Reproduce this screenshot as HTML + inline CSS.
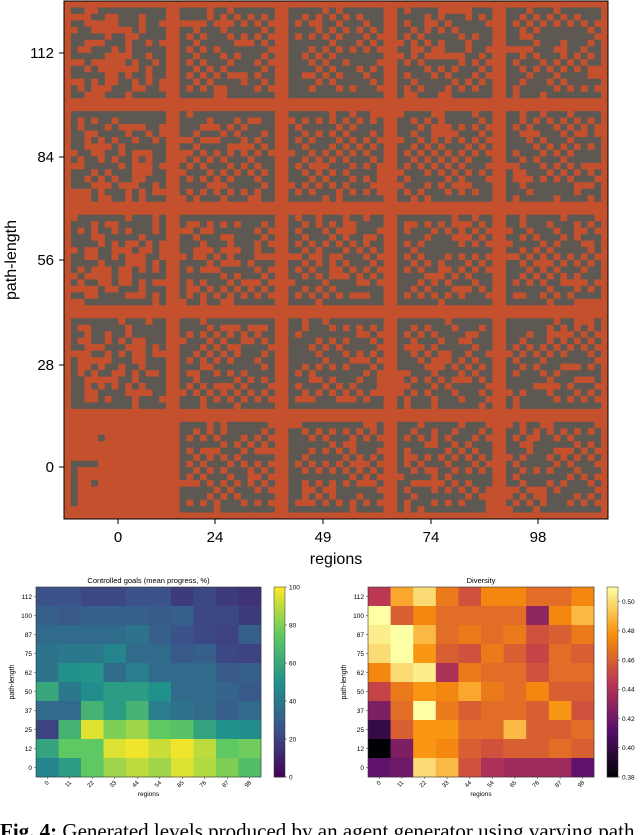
<!DOCTYPE html>
<html><head><meta charset="utf-8"><style>
body{margin:0;background:#fff;width:640px;height:835px;overflow:hidden;font-family:"Liberation Sans",sans-serif}
svg{position:absolute;left:0;top:0}
</style></head><body>
<svg id="s" width="640" height="835">
<g id="maze"></g>
<g id="top-axes"></g>
<g id="hm1"></g>
<g id="hm2"></g>
<text x="0" y="838" font-family="Liberation Serif,serif" font-size="21"><tspan font-weight="bold">Fig. 4:</tspan> Generated levels produced by an agent generator using varying path</text>
</svg>
<script>
const NS='http://www.w3.org/2000/svg';
function mk(p,t,a,txt){const e=document.createElementNS(NS,t);for(const k in a)e.setAttribute(k,a[k]);if(txt!==undefined)e.textContent=txt;p.appendChild(e);return e;}
// ---- data ----
const topXTicks=['0','24','49','74','98'];
const topYTicks=['0','28','56','84','112'];
const hmRegions=['0','11','22','33','44','54','65','76','87','98'];
const hmPath=['112','100','87','75','62','50','37','25','12','0'];
const goalsValues=[
[25,25,22,22,25,25,18,22,18,15],
[30,28,30,30,30,28,30,22,22,18],
[35,35,35,35,38,30,25,22,20,30],
[38,40,40,45,35,35,28,30,22,20],
[38,50,52,35,42,35,35,35,28,30],
[60,40,48,55,55,50,35,35,32,28],
[35,35,65,55,65,42,38,35,30,35],
[20,65,95,80,85,75,72,58,50,48],
[58,75,75,95,98,92,98,90,75,78],
[45,55,75,85,90,85,95,88,80,70]];
const diversityValues=[
[.445,.485,.50,.47,.455,.475,.475,.465,.465,.475],
[.51,.46,.475,.465,.465,.465,.465,.43,.475,.49],
[.505,.51,.49,.465,.47,.465,.47,.455,.46,.47],
[.50,.51,.48,.46,.455,.47,.46,.45,.465,.46],
[.475,.50,.505,.44,.47,.465,.465,.455,.465,.465],
[.45,.47,.48,.475,.485,.47,.465,.475,.46,.46],
[.425,.465,.51,.47,.46,.465,.465,.46,.48,.455],
[.40,.46,.48,.48,.465,.465,.49,.46,.46,.465],
[.38,.425,.48,.475,.46,.455,.46,.46,.465,.46],
[.415,.42,.50,.49,.455,.44,.435,.435,.435,.415]];
const goalsTicks=[0,20,40,60,80,100];
const divTicks=[0.38,0.40,0.42,0.44,0.46,0.48,0.50];
// ---- maze image ----
const S=document.getElementById('s');
const mz=document.getElementById('maze');
const X0=64,Y0=1,W=544,H=518,N=80,cw=W/N,ch=H/N;
mk(mz,'rect',{x:X0,y:Y0,width:W,height:H,fill:'#c5502d'});
function h(a,b){let v=(a*374761393+b*668265263)^0x5bd1e995;v=(v^(v>>>13))*1274126177;return ((v^(v>>>16))>>>0)/4294967295;}
let d='';
for(let tr=0;tr<5;tr++)for(let tc=0;tc<5;tc++){
 for(let i=1;i<15;i++)for(let j=1;j<15;j++){
  let g;
  if(tc==0){
   if(tr==4){g=(j<=2&&i>=7&&i<=13&&(j==1||i==7))||(i==7&&j<5)||(i==3&&j==5)||(i==10&&j==4);}
   else{const r=h(tr*100+i,tc*100+j);g=(j==1||i==14||i==1)?r<0.85:r<0.55;}
  }else{
   const r=h(tr*37+i*3,tc*91+j*7);
   if(j==1||i==1||i==14)g=r<0.8;else g=((i+j)%2==0)?r<0.92:r<0.28;
  }
  if(g){const x=X0+(tc*16+j)*cw,y=Y0+(tr*16+i)*ch;d+=`M${x.toFixed(1)} ${y.toFixed(1)}h${cw.toFixed(2)}v${ch.toFixed(2)}h${(-cw).toFixed(2)}z`;}
 }}
const mp=mk(mz,'path',{d:d,fill:'#5e5853'});


// ---- top axes ----
const ta=document.getElementById('top-axes');
mk(ta,'rect',{x:X0,y:Y0,width:W,height:H,fill:'none',stroke:'#000','stroke-width':1});
const txPos=[118,215,323,431,538],tyPos=[467,365,260,157,53];
topXTicks.forEach((t,i)=>{mk(ta,'line',{x1:txPos[i],x2:txPos[i],y1:519,y2:524,stroke:'#000'});const e=mk(ta,'text',{x:txPos[i],y:542,'text-anchor':'middle','font-size':15},t);});
topYTicks.forEach((t,i)=>{mk(ta,'line',{x1:59,x2:64,y1:tyPos[i],y2:tyPos[i],stroke:'#000'});const e=mk(ta,'text',{x:54,y:tyPos[i]+5,'text-anchor':'end','font-size':15},t);});
const xt=mk(ta,'text',{x:336,y:564,'text-anchor':'middle','font-size':16},'regions');
const yt=mk(ta,'text',{x:16,y:260,'text-anchor':'middle','font-size':16,transform:'rotate(-90 16 260)'},'path-length');
// ---- colormaps ----
const viridis=['#440154','#3b528b','#21918c','#5ec962','#fde725'];
const inferno=['#000004','#57106e','#bc3754','#f98e09','#fcffa4'];
function cmap(st,t){t=Math.max(0,Math.min(1,t));const p=t*(st.length-1),i=Math.min(st.length-2,Math.floor(p)),f=p-i;
 const a=st[i],b=st[i+1];const c=k=>Math.round(parseInt(a.substr(k,2),16)*(1-f)+parseInt(b.substr(k,2),16)*f);
 return `rgb(${c(1)},${c(3)},${c(5)})`;}
function heat(g,vals,x0,x1,y0,y1,lo,hi,st,title,cbx,ticks,fmt){
 const nx=hmRegions.length,ny=hmPath.length,cwid=(x1-x0)/nx,chgt=(y1-y0)/ny;
 const xs=i=>x0+i*cwid,ys=j=>y0+j*chgt,norm=v=>(v-lo)/(hi-lo);
 vals.forEach((row,j)=>row.forEach((v,i)=>{const r=mk(g,'rect',{x:xs(i),y:ys(j),width:cwid+0.3,height:chgt+0.3,fill:cmap(st,norm(v))});
  }));
 mk(g,'rect',{x:x0,y:y0,width:x1-x0,height:y1-y0,fill:'none',stroke:'#333','stroke-width':0.6});
 const tt=mk(g,'text',{x:(x0+x1)/2,y:y0-4,'text-anchor':'middle','font-size':7.5},title);
 hmPath.forEach((t,j)=>{const y=ys(j)+chgt/2;mk(g,'line',{x1:x0-2,x2:x0,y1:y,y2:y,stroke:'#333','stroke-width':0.5});const e=mk(g,'text',{x:x0-4,y:y+2.3,'text-anchor':'end','font-size':6.5},t);});
 hmRegions.forEach((t,i)=>{const x=xs(i)+cwid/2;mk(g,'line',{x1:x,x2:x,y1:y1,y2:y1+2,stroke:'#333','stroke-width':0.5});const e=mk(g,'text',{x:x+2,y:y1+6,'text-anchor':'end','font-size':6,transform:`rotate(-45 ${x+2} ${y1+6})`},t);});
 const xa=mk(g,'text',{x:(x0+x1)/2,y:y1+19,'text-anchor':'middle','font-size':6.5},'regions');
 const yc=(y0+y1)/2;const ya=mk(g,'text',{x:x0-22,y:yc,'text-anchor':'middle','font-size':7,transform:`rotate(-90 ${x0-22} ${yc})`},'path-length');
 const cb=mk(g,'g',{});
 const steps=60;for(let k=0;k<steps;k++){mk(cb,'rect',{x:cbx,y:y1-(k+1)*(y1-y0)/steps,width:11,height:(y1-y0)/steps+0.4,fill:cmap(st,(k+0.5)/steps)});}
 mk(cb,'rect',{x:cbx,y:y0,width:11,height:y1-y0,fill:'none',stroke:'#333','stroke-width':0.5});
 ticks.forEach(t=>{const y=y1-norm(t)*(y1-y0);mk(cb,'line',{x1:cbx+11,x2:cbx+13,y1:y,y2:y,stroke:'#333','stroke-width':0.5});const e=mk(cb,'text',{x:cbx+15,y:y+2.3,'font-size':6.5},fmt(t));});
}
heat(document.getElementById('hm1'),goalsValues,36,261,587,777,0,100,viridis,'Controlled goals (mean progress, %)',274,goalsTicks,t=>String(t));
heat(document.getElementById('hm2'),diversityValues,368,594,587,777,0.38,0.51,inferno,'Diversity',607,divTicks,t=>t.toFixed(2));
</script>
</body></html>
